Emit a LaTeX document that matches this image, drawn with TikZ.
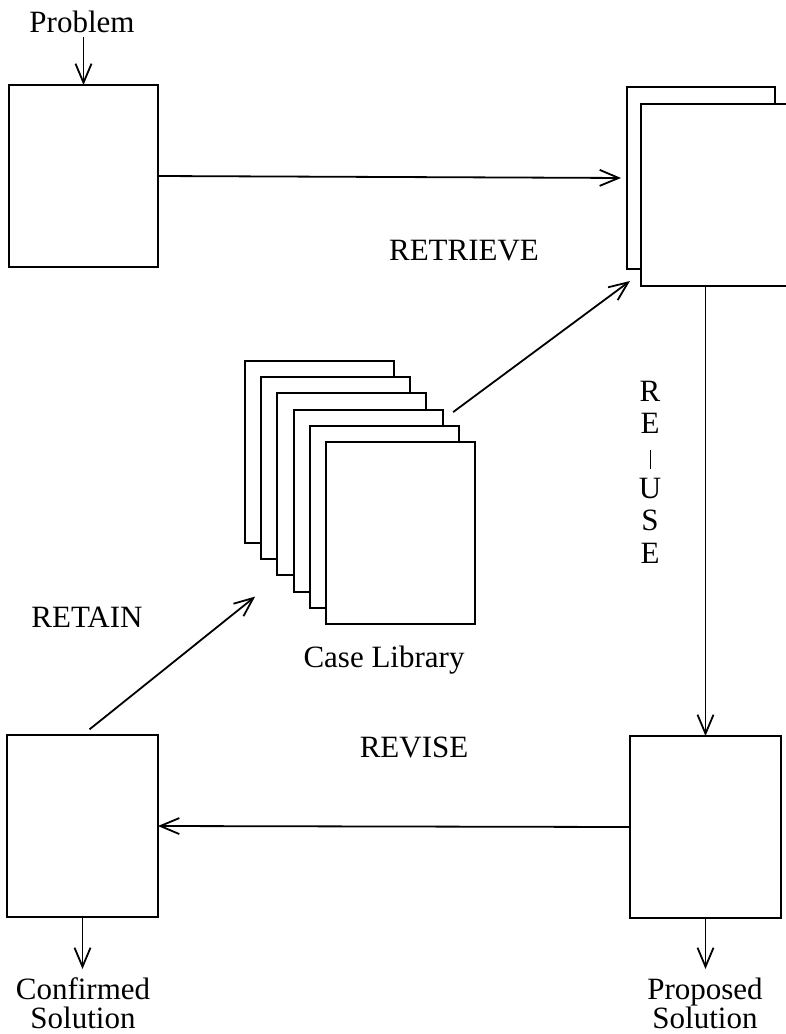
\documentclass[tikz,border=0pt]{standalone}
\usepackage{fontspec}
\setmainfont{Liberation Serif}
\usetikzlibrary{arrows.meta}
\begin{document}
\begin{tikzpicture}[x=1pt,y=-1pt,
  every node/.style={inner sep=0pt,outer sep=0pt,font=\fontsize{31}{29}\selectfont},
  card/.style={draw,line width=2pt,fill=white,anchor=north west,minimum width=149pt,minimum height=182pt},
  arr/.style={line width=1.8pt,-{Straight Barb[length=19pt,width=16pt,line width=1.8pt]}},
  lbl/.style={anchor=base}]
\useasboundingbox[fill=white] (0,0) rectangle (785,1034);
% Problem
\node[card] (prob) at (9,85) {};
\node[lbl] (ptext) at (82,32) {Problem};
\draw[arr,shorten <=5pt] (ptext.south -| prob.north) -- (prob.north);
% Retrieve stack
\node[card,minimum width=148pt] (retB) at (627,87) {};
\node[card,minimum width=146pt] (retF) at (641,104) {};
\draw[arr,shorten >=6pt] (prob.east) -- (retB.west);
\node[lbl] (retrieve) at (464,260) {RETRIEVE};
% Case library
\foreach \i in {1,...,6}{
  \node[card] (lib\i) at ({245+16.2*(\i-1)},{361+16.2*(\i-1)}) {};
}
\node[lbl] (libtext) at (384,667) {Case Library};
\draw[arr] ([shift={(10.5,2.5)}]lib4.north east) -- ([shift={(3,12)}]retB.south west);
% Proposed
\node[card,minimum width=151pt] (prop) at (630,736) {};
\draw[arr] (prop.north |- retF.south) -- (prop.north);
\node[font=\fontsize{31}{32.4}\selectfont,align=center,anchor=north] (reuse) at (650,381) {R\\E\\\rule[-3pt]{1pt}{19pt}\\U\\S\\E};
\node[align=center,anchor=north] (ptxt) at (705,978) {Proposed\\Solution};
\draw[arr,shorten >=9pt] (prop.south) -- (prop.south |- ptxt.north);
% Confirmed
\node[card,minimum width=151pt] (conf) at (7,735) {};
\draw[arr] (prop.west) -- (conf.east);
\node[lbl] (revise) at (414,757) {REVISE};
\node[align=center,anchor=north] (ctxt) at (83,978) {Confirmed\\Solution};
\draw[arr,shorten >=9pt] (conf.south) -- (conf.south |- ctxt.north);
% Retain
\draw[arr,shorten <=9pt] (conf.north) -- ([shift={(-38.5,5)}]lib4.south west);
\node[lbl] (retain) at (87,627) {RETAIN};
\end{tikzpicture}
\end{document}
